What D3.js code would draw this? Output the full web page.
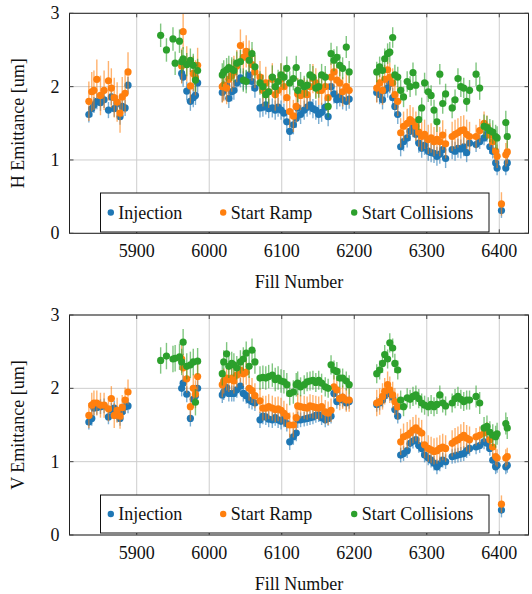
<!DOCTYPE html>
<html>
<head>
<meta charset="utf-8">
<script src="https://cdn.jsdelivr.net/npm/d3@7"></script>
<style>
  html, body { margin: 0; padding: 0; background: #fff; }
  svg { display: block; font-family: "Liberation Serif", "Times New Roman", serif; }
</style>
</head>
<body>
<svg id="chart" width="532" height="594"></svg>
<script>
// ── Data ─────────────────────────────────────────────────────────────────
const fills = [
  5834, 5838, 5841, 5845, 5850, 5855, 5861, 5865, 5869, 5873, 5877, 5880, 5884, 5888,
  5933, 5941, 5950, 5953, 5959, 5962, 5964, 5969, 5974, 5978, 5981, 5984,
  6018, 6020, 6024, 6027, 6031, 6034, 6038, 6043, 6047, 6051, 6055, 6059, 6063, 6070,
  6074, 6078, 6082, 6087, 6091, 6095, 6099, 6103, 6107, 6111, 6116, 6120, 6122,
  6126, 6131, 6135, 6139, 6143, 6147, 6151, 6155, 6160, 6164, 6168, 6172, 6176, 6180,
  6184, 6189, 6193,
  6231, 6235, 6239, 6242, 6246, 6249, 6253, 6256, 6260, 6264, 6268, 6273, 6277, 6281,
  6285, 6289, 6293, 6297, 6302, 6306, 6310, 6314, 6318, 6322, 6326, 6335, 6339, 6343,
  6347, 6351, 6355, 6359,
  6368, 6373, 6379, 6383, 6387, 6391, 6395, 6397, 6403, 6409, 6411
];

const hInjection = [
  1.62, 1.70, 1.75, 1.80, 1.78, 1.82, 1.68, 1.86, 1.70, 1.77, 1.59, 1.73, 1.71, 2.02,
  null, null, null, null, null, 2.18, 2.13, 1.94, 1.80, 1.85, 1.88, 2.05,
  1.92, 1.95, 2.02, 1.84, 1.93, 1.95, 2.05, 2.12, 2.08, 2.09, 2.16, 2.07, 1.98, 1.71,
  1.72, 1.75, 1.70, 1.71, 1.68, 1.72, 1.68, 1.64, 1.52, 1.39, 1.48, 1.57, 1.71,
  1.62, 1.68, 1.72, 1.75, 1.70, 1.68, 1.62, 1.65, 1.72, 1.59, 2.00, 1.90, 1.82, 1.86,
  1.82, 1.80, 1.83,
  1.92, 1.89, 1.82, 1.95, 1.98, 2.04, 1.85, 1.73, 1.62, 1.18, 1.25, 1.30, 1.39, 1.44,
  1.35, 1.23, 1.16, 1.20, 1.12, 1.10, 1.09, 1.05, 1.08, 1.14, 1.02, 1.14, 1.12, 1.16,
  1.15, 1.18, 1.10, 1.23,
  1.21, 1.25, 1.30, 1.35, 1.18, 1.12, 0.96, 0.89, 0.31, 0.89, 0.96
];
const hStartRamp = [
  1.80, 1.93, 1.95, 2.10, 1.88, 1.95, 2.08, 1.98, 1.85, 1.79, 1.64, 1.86, 1.91, 2.20,
  null, null, null, null, null, 2.28, 2.75, 2.31, 2.01, 2.18, 2.12, 2.29,
  2.00, 2.02, 1.98, 2.10, 2.15, 2.20, 2.28, 2.56, 2.40, 2.48, 2.41, 2.30, 2.20, 2.13,
  1.95, 2.05, 1.93, 2.10, 1.89, 1.95, 2.10, 2.00, 1.85, 1.66, 1.60, 1.73, 1.90,
  1.88, 1.92, 1.89, 2.00, 2.11, 2.05, 1.95, 1.95, 2.00, 1.85, 2.13, 2.20, 2.09, 2.05,
  1.93, 2.00, 1.95,
  1.98, 2.05, 1.95, 2.10, 2.23, 2.13, 2.05, 1.89, 1.80, 1.37, 1.46, 1.50, 1.55, 1.52,
  1.46, 1.38, 1.32, 1.35, 1.28, 1.30, 1.25, 1.28, 1.25, 1.34, 1.22, 1.32, 1.35, 1.37,
  1.40, 1.41, 1.35, 1.32,
  1.32, 1.40, 1.50, 1.45, 1.34, 1.25, 1.12, 1.05, 0.40, 1.07, 1.11
];
const hStartCollisions = [
  null, null, null, null, null, null, null, null, null, null, null, null, null, null,
  2.70, 2.50, 2.65, 2.32, 2.62, 2.34, 2.38, 2.30, 2.36, 2.29, 2.09, 2.22,
  2.16, 2.20, 2.23, 2.26, 2.24, 2.22, 2.32, 2.34, 2.09, 2.07, 2.36, 2.45, 2.27, 2.05,
  2.00, 1.89, 1.93, 2.13, 2.00, 2.07, 2.16, 2.13, 2.25, 2.05, 2.11, 2.26, 1.95,
  2.05, 2.00, 2.02, 2.16, 2.13, 1.98, 2.00, 2.16, 2.13, 1.73, 2.45, 2.36, 2.40, 2.29,
  2.25, 2.54, 2.20,
  2.20, 2.27, 2.22, 2.38, 2.45, 2.47, 2.67, 2.16, 2.13, 1.95, 1.86, 2.07, 2.00, 2.19,
  2.02, 1.55, 1.71, 2.05, 1.93, 1.88, 1.68, 1.52, 2.17, 1.77, 1.90, 1.71, 1.82, 2.11,
  2.00, 1.98, 1.80, 1.95,
  2.17, 1.98, 1.46, 1.44, 1.40, 1.38, 1.32, 1.30, null, 1.51, 1.32
];

const vInjection = [
  1.54, 1.59, 1.73, 1.74, 1.75, 1.76, 1.61, 1.70, 1.73, 1.64, 1.59, 1.68, 1.75, 1.76,
  null, null, null, null, null, 2.00, 2.07, 1.92, 1.59, 1.85, 1.90, 2.00,
  1.91, 1.95, 2.01, 1.93, 1.93, 1.93, 1.98, 2.03, 1.93, 1.90, 1.84, 1.82, 1.80, 1.57,
  1.62, 1.61, 1.58, 1.57, 1.60, 1.57, 1.55, 1.58, 1.52, 1.27, 1.34, 1.39, 1.57,
  1.57, 1.58, 1.59, 1.60, 1.61, 1.63, 1.64, 1.60, 1.57, 1.59, 1.62, 1.93, 1.82, 1.86,
  1.84, 1.80, 1.82,
  1.78, 1.80, 1.84, 1.90, 1.96, 1.93, 1.88, 1.71, 1.62, 1.09, 1.11, 1.15, 1.25, 1.28,
  1.30, 1.22, 1.18, 1.09, 1.05, 1.02, 0.98, 0.93, 0.97, 1.02, 1.00, 1.07, 1.08, 1.09,
  1.10, 1.11, 1.15, 1.18,
  1.20, 1.22, 1.27, 1.25, 1.18, 1.02, 0.93, 0.95, 0.34, 0.93, 0.95
];
const vStartRamp = [
  1.63, 1.77, 1.80, 1.80, 1.77, 1.77, 1.72, 1.86, 1.63, 1.70, 1.62, 1.74, 1.84, 1.95,
  null, null, null, null, null, 2.40, 2.28, 2.13, 1.75, 2.00, 1.92, 2.16,
  2.05, 2.10, 2.14, 2.12, 2.14, 2.10, 2.18, 2.25, 2.20, 2.22, 2.00, 1.97, 1.90, 1.83,
  1.73, 1.73, 1.75, 1.73, 1.71, 1.72, 1.70, 1.66, 1.62, 1.50, 1.50, 1.60, 1.76,
  1.75, 1.74, 1.73, 1.76, 1.75, 1.74, 1.73, 1.75, 1.68, 1.66, 1.70, 2.02, 1.98, 1.86,
  1.88, 1.84, 1.84,
  1.80, 1.82, 1.89, 1.96, 2.05, 1.98, 1.91, 1.82, 1.75, 1.27, 1.34, 1.36, 1.39, 1.43,
  1.46, 1.42, 1.39, 1.23, 1.18, 1.16, 1.14, 1.15, 1.18, 1.20, 1.18, 1.25, 1.28, 1.30,
  1.33, 1.36, 1.32, 1.30,
  1.34, 1.36, 1.39, 1.42, 1.30, 1.20, 1.07, 1.05, 0.42, 1.05, 1.07
];
const vStartCollisions = [
  null, null, null, null, null, null, null, null, null, null, null, null, null, null,
  2.38, 2.44, 2.40, 2.41, 2.43, 2.36, 2.63, 2.30, 2.32, 2.36, 1.81, 2.37,
  2.20, 2.36, 2.47, 2.30, 2.34, 2.32, 2.28, 2.36, 2.40, 2.48, 2.30, 2.52, 2.36, 2.14,
  2.15, 2.14, 2.16, 2.18, 2.12, 2.14, 2.10, 2.09, 2.05, 1.93, 1.95, 2.05, 2.07,
  2.02, 2.05, 2.09, 2.10, 2.11, 2.08, 2.11, 2.07, 2.02, 2.00, 2.32, 2.25, 2.23, 2.14,
  2.14, 2.10, 2.05,
  2.20, 2.25, 2.34, 2.46, 2.40, 2.62, 2.55, 2.34, 2.25, 1.84, 1.75, 1.87, 1.85, 1.89,
  1.91, 1.86, 1.80, 1.77, 1.75, 1.78, 1.75, 1.78, 1.91, 1.80, 1.76, 1.80, 1.86, 1.89,
  1.85, 1.82, 1.84, 1.84,
  1.89, 1.80, 1.46, 1.48, 1.40, 1.36, 1.34, 1.38, null, 1.52, 1.46
];

// typical error bar half-length for each run of fills
const groupStarts = [5830, 5930, 6015, 6124, 6228, 6365];
const hInjErr  = [0.11, 0.13, 0.13, 0.13, 0.13, 0.10];
const hRampErr = [0.27, 0.24, 0.22, 0.20, 0.20, 0.16];
const hCollErr = [0.15, 0.16, 0.16, 0.15, 0.14, 0.16];
const vInjErr  = [0.10, 0.11, 0.11, 0.10, 0.10, 0.10];
const vRampErr = [0.17, 0.19, 0.17, 0.16, 0.18, 0.12];
const vCollErr = [0.15, 0.18, 0.16, 0.13, 0.13, 0.15];

const seriesNames = ['Injection', 'Start Ramp', 'Start Collisions'];
const COLORS = ['#1f77b4', '#ff7f0e', '#2ca02c'];
const xTicks = [5900, 6000, 6100, 6200, 6300, 6400];
const yTicks = [0, 1, 2, 3];

// ── Layout ────────────────────────────────────────────────────────────────
const PLOT_L = 69.5, PLOT_R = 528.5;
const FS = 18;
const svg = d3.select('#chart');

const x = d3.scaleLinear().domain([5807.3, 6440.3]).range([PLOT_L, PLOT_R]);

function groupIndex(f) {
  let g = 0;
  groupStarts.forEach((s, i) => { if (f >= s) g = i; });
  return g;
}

function drawPanel({ top, bottom, label, series, errs, legendY, legendH }) {
  const y = d3.scaleLinear().domain([0, 3]).range([bottom, top]);
  const g = svg.append('g');

  // grid
  g.selectAll('.gx').data(xTicks).join('line')
    .attr('x1', d => x(d)).attr('x2', d => x(d))
    .attr('y1', top).attr('y2', bottom)
    .attr('stroke', '#cdcdcd').attr('stroke-width', 1);
  g.selectAll('.gy').data(yTicks).join('line')
    .attr('x1', PLOT_L).attr('x2', PLOT_R)
    .attr('y1', d => y(d)).attr('y2', d => y(d))
    .attr('stroke', '#cdcdcd').attr('stroke-width', 1);

  // series: error bars + markers
  series.forEach((vals, si) => {
    const pts = fills.map((f, i) => ({ f, v: vals[i], e: errs[si][groupIndex(f)] }))
      .filter(d => d.v != null);
    const col = COLORS[si];
    g.append('g').selectAll('line').data(pts).join('line')
      .attr('x1', d => x(d.f)).attr('x2', d => x(d.f))
      .attr('y1', d => y(d.v - d.e)).attr('y2', d => y(d.v + d.e))
      .attr('stroke', col).attr('stroke-opacity', 0.6).attr('stroke-width', 1.4);
    g.append('g').selectAll('circle').data(pts).join('circle')
      .attr('cx', d => x(d.f)).attr('cy', d => y(d.v))
      .attr('r', 3.6).attr('fill', col);
  });

  // frame
  g.append('rect')
    .attr('x', PLOT_L).attr('y', top)
    .attr('width', PLOT_R - PLOT_L).attr('height', bottom - top)
    .attr('fill', 'none').attr('stroke', '#222').attr('stroke-width', 1);

  // inward ticks on all four sides
  const tk = 4;
  xTicks.forEach(t => {
    g.append('line').attr('x1', x(t)).attr('x2', x(t)).attr('y1', bottom).attr('y2', bottom - tk)
      .attr('stroke', '#444');
    g.append('line').attr('x1', x(t)).attr('x2', x(t)).attr('y1', top).attr('y2', top + tk)
      .attr('stroke', '#444');
  });
  yTicks.forEach(t => {
    g.append('line').attr('x1', PLOT_L).attr('x2', PLOT_L + tk).attr('y1', y(t)).attr('y2', y(t))
      .attr('stroke', '#444');
    g.append('line').attr('x1', PLOT_R).attr('x2', PLOT_R - tk).attr('y1', y(t)).attr('y2', y(t))
      .attr('stroke', '#444');
  });

  // tick labels
  g.selectAll('.xl').data(xTicks).join('text')
    .attr('x', d => x(d)).attr('y', bottom + 24)
    .attr('text-anchor', 'middle').attr('font-size', FS).attr('fill', '#111')
    .text(d => d);
  g.selectAll('.yl').data(yTicks).join('text')
    .attr('x', PLOT_L - 10).attr('y', d => y(d) + 6)
    .attr('text-anchor', 'end').attr('font-size', FS).attr('fill', '#111')
    .text(d => d);

  // axis titles
  g.append('text')
    .attr('x', (PLOT_L + PLOT_R) / 2).attr('y', bottom + 55)
    .attr('text-anchor', 'middle').attr('font-size', FS).attr('fill', '#111')
    .text('Fill Number');
  g.append('text')
    .attr('transform', `translate(24,${(top + bottom) / 2}) rotate(-90)`)
    .attr('text-anchor', 'middle').attr('font-size', FS).attr('fill', '#111')
    .text(label);

  // legend
  const lg = g.append('g');
  lg.append('rect')
    .attr('x', 100.5).attr('y', legendY).attr('width', 388.5).attr('height', legendH)
    .attr('fill', '#fff').attr('stroke', '#111').attr('stroke-width', 1);
  const entryX = [110.8, 223.2, 354.2];
  const cy = legendY + legendH / 2;
  seriesNames.forEach((name, i) => {
    lg.append('circle').attr('cx', entryX[i]).attr('cy', cy).attr('r', 3.2).attr('fill', COLORS[i]);
    lg.append('text').attr('x', entryX[i] + 7.5).attr('y', cy + 6)
      .attr('font-size', FS).attr('fill', '#111').text(name);
  });
}

drawPanel({
  top: 13.3, bottom: 233.3, label: 'H Emittance [um]',
  series: [hInjection, hStartRamp, hStartCollisions],
  errs: [hInjErr, hRampErr, hCollErr],
  legendY: 193, legendH: 39
});
drawPanel({
  top: 315, bottom: 535, label: 'V Emittance [um]',
  series: [vInjection, vStartRamp, vStartCollisions],
  errs: [vInjErr, vRampErr, vCollErr],
  legendY: 495, legendH: 38
});
</script>
</body>
</html>
